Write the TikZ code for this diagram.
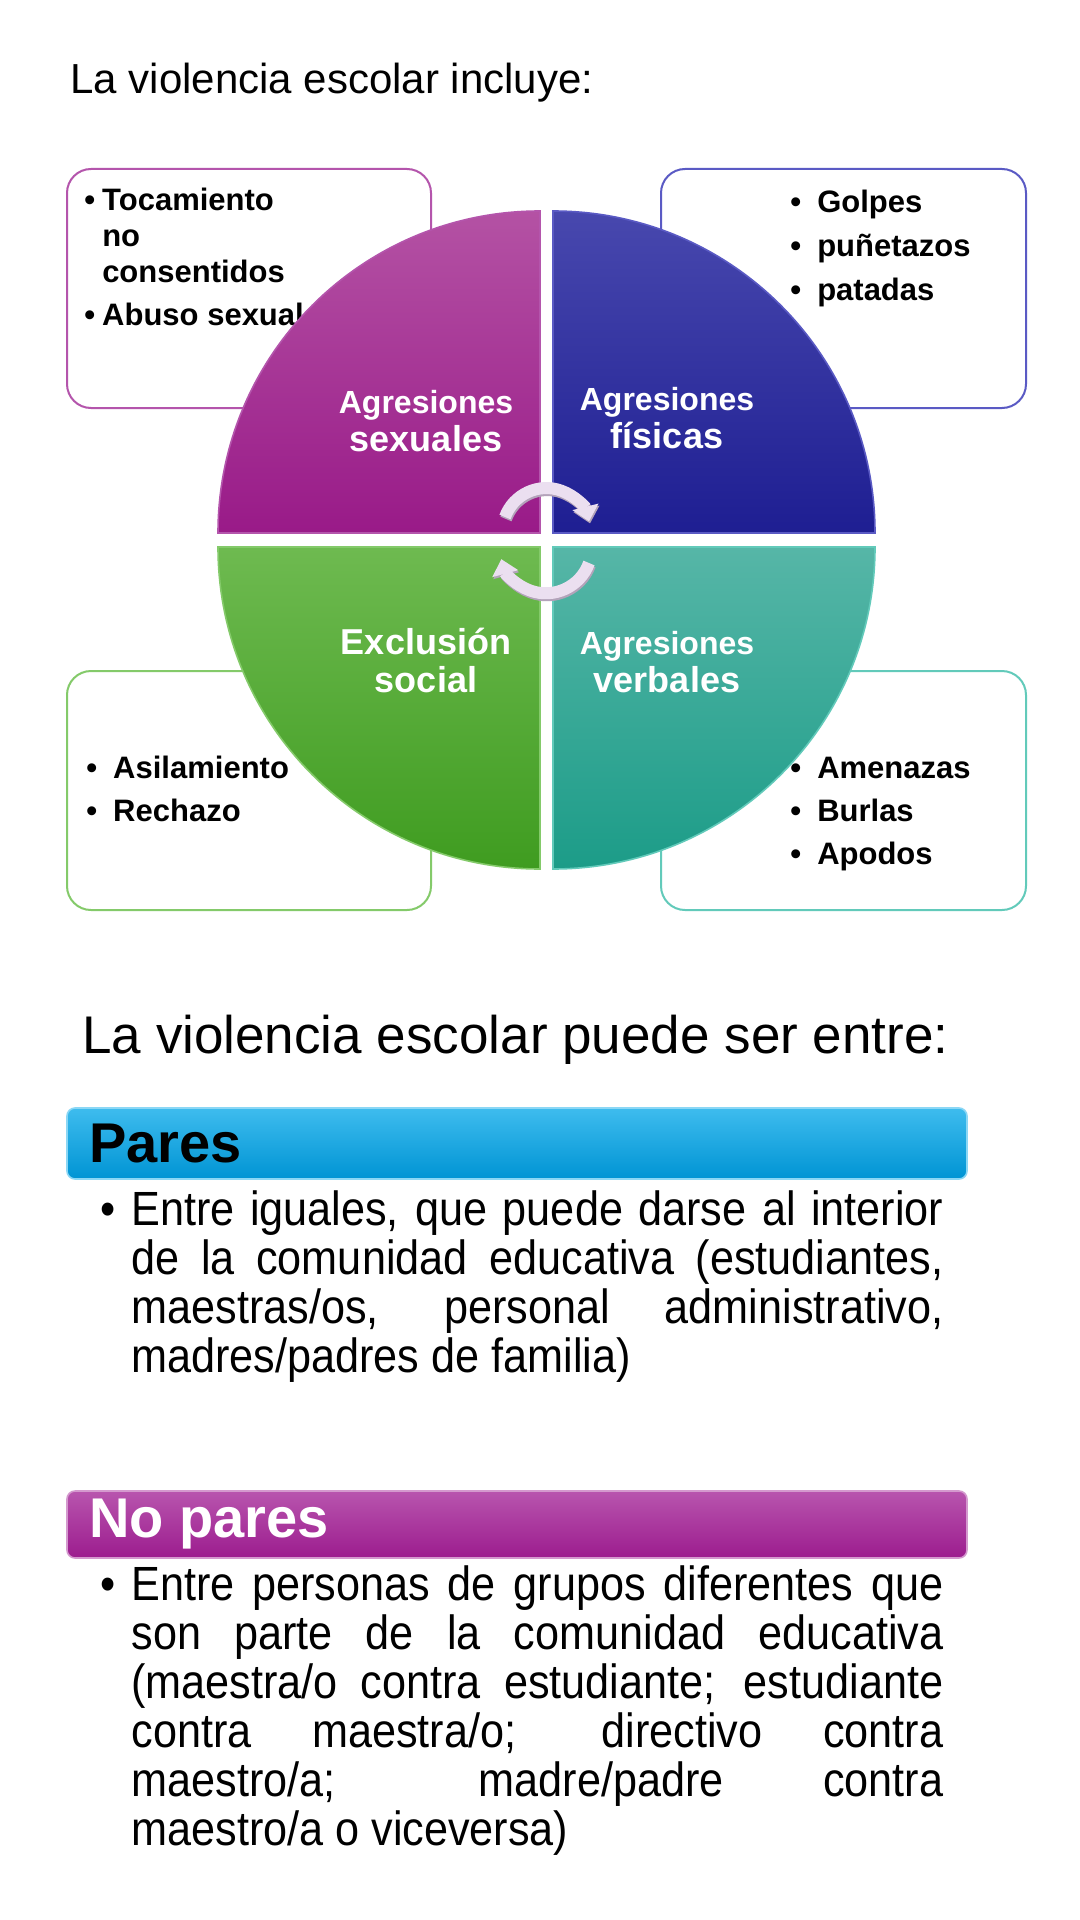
\documentclass[tikz,border=0pt]{standalone}
\usepackage{fontspec}
\setmainfont{Liberation Sans}
\newfontfamily\narrowfont[FakeStretch=0.9]{Liberation Sans}
\usepackage{tikz}
\usetikzlibrary{arrows.meta}
\definecolor{ink}{HTML}{000000}
\definecolor{sexualtop}{HTML}{B452A4}
\definecolor{sexualbot}{HTML}{991A88}
\definecolor{sexualline}{HTML}{B455AC}
\definecolor{fisicatop}{HTML}{4848AE}
\definecolor{fisicabot}{HTML}{1E1E92}
\definecolor{fisicaline}{HTML}{5A5AC4}
\definecolor{socialtop}{HTML}{6EBA50}
\definecolor{socialbot}{HTML}{3F9C20}
\definecolor{socialline}{HTML}{84CA6A}
\definecolor{verbaltop}{HTML}{56B6A7}
\definecolor{verbalbot}{HTML}{1C9C88}
\definecolor{verballine}{HTML}{62CABA}
\definecolor{cyclepale}{HTML}{EBDFF0}
\definecolor{cycleshade}{HTML}{B3A3BA}
\definecolor{parestop}{HTML}{3EBCEE}
\definecolor{paresbot}{HTML}{0094D4}
\definecolor{nopartop}{HTML}{B855AE}
\definecolor{noparbot}{HTML}{9C1C8E}

\begin{document}
\begin{tikzpicture}[
  x=0.5pt,
  y=-0.5pt,
  listbox/.style={line width=1pt,fill=white,rounded corners=12pt},
  quadrant/.style={line width=0.8pt},
  listtext/.style={
    inner sep=0pt,anchor=base west,text=ink,
    font=\fontsize{15.5}{18}\selectfont\bfseries
  },
  quadlabel/.style={
    inner sep=0pt,align=center,text=white,
    font=\fontsize{18}{19}\selectfont\bfseries
  },
  cyclearrow/.style={
    -{Triangle[length=7.5pt,width=13pt]},line width=6pt,draw=cyclepale
  },
  cycleshadow/.style={cyclearrow,draw=cycleshade},
  bar/.style={line width=0.8pt,rounded corners=4pt},
  bartitle/.style={
    inner sep=0pt,anchor=west,font=\fontsize{28}{30}\selectfont\bfseries
  },
  heading/.style={inner sep=0pt,anchor=base west,text=ink},
  bodyline/.style={
    inner sep=0pt,anchor=base west,text=ink,
    font=\narrowfont\fontsize{24}{24.5}\selectfont
  }
]
  \fill[white] (0,0) rectangle (1080,1920);
  \useasboundingbox (0,0) rectangle (1080,1920);

  \node[heading,font=\fontsize{21}{24}\selectfont] (title-incluye) at (70,94)
    {La violencia escolar incluye:};

  % list boxes, behind the circle
  \path[listbox,draw=sexualline] (67,169) rectangle (431,408);
  \path[listbox,draw=fisicaline] (661,169) rectangle (1026,408);
  \path[listbox,draw=socialline] (67,671) rectangle (431,910);
  \path[listbox,draw=verballine] (661,671) rectangle (1026,910);

  \node[listtext] (sexual-list) at (84,211) {%
    \begin{tabular}[t]{@{}l@{\hspace{3.5pt}}l@{}}
      \textbullet & Tocamiento\\
      & no\\
      & consentidos\\[3.5pt]
      \textbullet & Abuso sexual
    \end{tabular}};
  \node[listtext] (fisica-list) at (790,213) {%
    \begin{tabular}[t]{@{}l@{\hspace{8pt}}l@{}}
      \textbullet & Golpes\\[4pt]
      \textbullet & puñetazos\\[4pt]
      \textbullet & patadas
    \end{tabular}};
  \node[listtext] (social-list) at (86,778) {%
    \begin{tabular}[t]{@{}l@{\hspace{8pt}}l@{}}
      \textbullet & Asilamiento\\[3.5pt]
      \textbullet & Rechazo
    \end{tabular}};
  \node[listtext] (verbal-list) at (790,778) {%
    \begin{tabular}[t]{@{}l@{\hspace{8pt}}l@{}}
      \textbullet & Amenazas\\[3.5pt]
      \textbullet & Burlas\\[3.5pt]
      \textbullet & Apodos
    \end{tabular}};

  % quadrants
  \path[quadrant,top color=sexualtop,bottom color=sexualbot,draw=sexualline]
    (540,533) -- ++(-322,0) arc[start angle=180,end angle=270,radius=322] -- cycle;
  \path[quadrant,top color=fisicatop,bottom color=fisicabot,draw=fisicaline]
    (553,533) -- ++(0,-322) arc[start angle=270,end angle=360,radius=322] -- cycle;
  \path[quadrant,top color=verbaltop,bottom color=verbalbot,draw=verballine]
    (553,547) -- ++(322,0) arc[start angle=0,end angle=90,radius=322] -- cycle;
  \path[quadrant,top color=socialtop,bottom color=socialbot,draw=socialline]
    (540,547) -- ++(0,322) arc[start angle=90,end angle=180,radius=322] -- cycle;

  \node[quadlabel] (sexual-label) at (426,421)
    {{\fontsize{16}{19}\selectfont Agresiones}\\sexuales};
  \node[quadlabel] (fisica-label) at (667,418)
    {{\fontsize{16}{19}\selectfont Agresiones}\\físicas};
  \node[quadlabel] (social-label) at (426,660) {Exclusión\\social};
  \node[quadlabel] (verbal-label) at (667,662)
    {{\fontsize{16}{19}\selectfont Agresiones}\\verbales};

  % cycle arrows with a soft shadow
  \coordinate (cycle-top) at (505,517);
  \coordinate (cycle-top-shade) at (506,519);
  \coordinate (cycle-bottom) at (589,563);
  \coordinate (cycle-bottom-shade) at (590,565);
  \draw[cycleshadow] (cycle-top-shade) arc[start angle=-160,end angle=-14,radius=44];
  \draw[cyclearrow] (cycle-top) arc[start angle=-160,end angle=-14,radius=44];
  \draw[cycleshadow] (cycle-bottom-shade) arc[start angle=20,end angle=165,radius=46];
  \draw[cyclearrow] (cycle-bottom) arc[start angle=20,end angle=165,radius=46];

  \node[heading,font=\fontsize{26.5}{30}\selectfont] (title-entre) at (82,1053)
    {La violencia escolar puede ser entre:};

  % Pares
  \path[bar,top color=parestop,bottom color=paresbot,draw=parestop!60!white]
    (67,1108) rectangle (967,1179);
  \node[bartitle,text=ink] (pares-title) at (89,1143) {Pares};
  \node[bodyline,anchor=base] (pares-bullet) at (108,1225) {\textbullet};
  \node[bodyline] (pares-1) at (131,1225)
    {\makebox[406pt][s]{Entre iguales, que puede darse al interior}};
  \node[bodyline] (pares-2) at (131,1274)
    {\makebox[406pt][s]{de la comunidad educativa (estudiantes,}};
  \node[bodyline] (pares-3) at (131,1323)
    {\makebox[406pt][s]{maestras/os, personal administrativo,}};
  \node[bodyline] (pares-4) at (131,1372) {madres/padres de familia)};

  % No pares
  \path[bar,top color=nopartop,bottom color=noparbot,draw=nopartop!60!white]
    (67,1491) rectangle (967,1558);
  \node[bartitle,text=white] (nopares-title) at (89,1524) {No pares};
  \node[bodyline,anchor=base] (nopares-bullet) at (108,1600) {\textbullet};
  \node[bodyline] (nopares-1) at (131,1600)
    {\makebox[406pt][s]{Entre personas de grupos diferentes que}};
  \node[bodyline] (nopares-2) at (131,1649)
    {\makebox[406pt][s]{son parte de la comunidad educativa}};
  \node[bodyline] (nopares-3) at (131,1698)
    {\makebox[406pt][s]{(maestra/o contra estudiante; estudiante}};
  \node[bodyline] (nopares-4) at (131,1747)
    {\makebox[406pt][s]{contra maestra/o; directivo contra}};
  \node[bodyline] (nopares-5) at (131,1796)
    {\makebox[406pt][s]{maestro/a; madre/padre contra}};
  \node[bodyline] (nopares-6) at (131,1845) {maestro/a o viceversa)};
\end{tikzpicture}
\end{document}
